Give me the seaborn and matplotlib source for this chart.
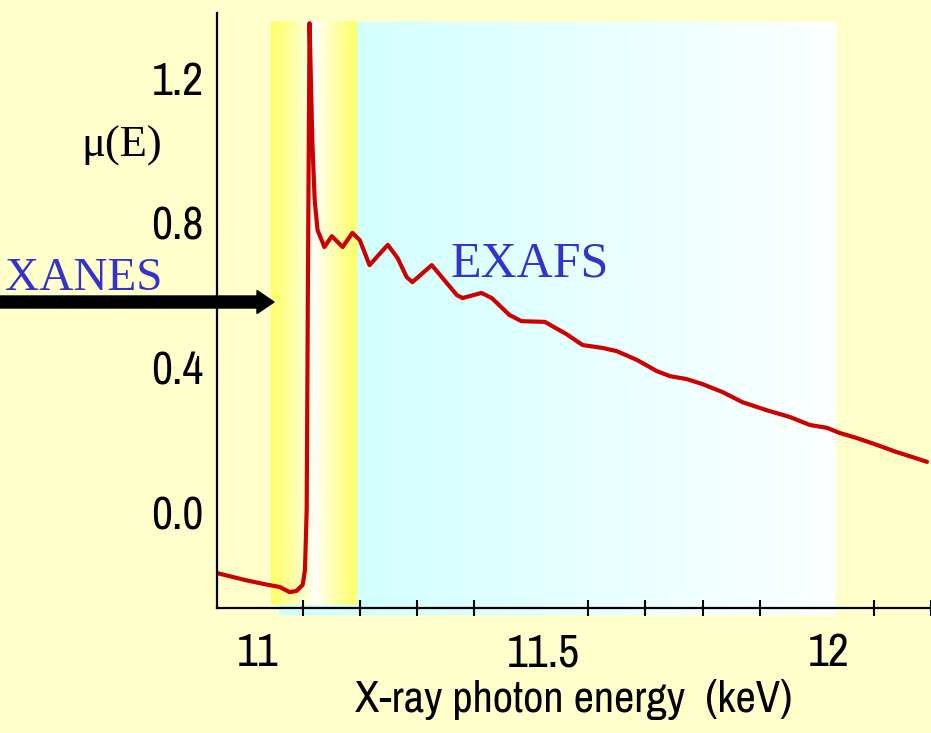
import numpy as np
import matplotlib
matplotlib.use("Agg")
import matplotlib.pyplot as plt
import seaborn as sns
from matplotlib import font_manager, transforms
from matplotlib.patches import FancyArrow
from matplotlib.ticker import MultipleLocator

# Absorption spectrum: photon energy (keV) and mu(E)
energy_kev = [10.949, 11.000, 11.033, 11.060, 11.077, 11.089, 11.100, 11.104,
              11.107, 11.109, 11.112, 11.117, 11.121, 11.126, 11.138, 11.151,
              11.170, 11.187, 11.200, 11.217, 11.249, 11.266, 11.282, 11.292,
              11.326, 11.345, 11.370, 11.380, 11.413, 11.431, 11.462, 11.483,
              11.524, 11.562, 11.590, 11.625, 11.650, 11.685, 11.720, 11.743,
              11.772, 11.800, 11.835, 11.870, 11.912, 11.953, 11.988, 12.018,
              12.040, 12.070, 12.105, 12.140, 12.168, 12.193]
mu_e = [-0.149, -0.169, -0.180, -0.188, -0.202, -0.199, -0.182, -0.141,
        0.025, 0.605, 1.371, 1.040, 0.882, 0.799, 0.752, 0.782,
        0.752, 0.791, 0.771, 0.702, 0.758, 0.722, 0.669, 0.655,
        0.702, 0.666, 0.619, 0.611, 0.625, 0.611, 0.564, 0.547,
        0.545, 0.511, 0.481, 0.473, 0.464, 0.440, 0.409, 0.395,
        0.387, 0.373, 0.351, 0.323, 0.301, 0.282, 0.260, 0.252,
        0.238, 0.224, 0.205, 0.185, 0.171, 0.158]

x_ticks = [11.0, 11.5, 12.0]
x_tick_labels = ["11", "11.5", "12"]
y_ticks = [0.0, 0.4, 0.8, 1.2]
y_tick_labels = ["0.0", "0.4", "0.8", "1.2"]

# Energy windows of the two spectral regions
xanes_range = (11.045, 11.194)
exafs_range = (11.058, 12.033)

BG = "#FFFFCC"
RED = "#CC0000"
BLUE = "#3333CC"

sns.set_theme(style="white")
names = {f.name for f in font_manager.fontManager.ttflist}
narrow_choices = ["Liberation Sans Narrow", "Arial Narrow", "Archivo Narrow",
                  "PT Sans Narrow", "Roboto Condensed", "Liberation Sans"]
sans = next(n for n in narrow_choices if n in names or n == "Liberation Sans")
plt.rcParams["font.family"] = [sans, "DejaVu Sans"]
SERIF = ["Liberation Serif", "DejaVu Serif"]

fig = plt.figure(figsize=(9.31, 7.33), dpi=100, facecolor=BG)
ax = fig.add_axes([217 / 931, 125 / 733, 714 / 931, 595 / 733])
ax.set_facecolor(BG)

# EXAFS window: cyan fading to white
n = 256
t = np.linspace(0, 1, n)
cyan = np.ones((1, n, 3))
cyan[0, :, 0] = 0.80 + 0.19 * t
ax.imshow(cyan, extent=[exafs_range[0], exafs_range[1], -0.265, 1.374],
          aspect="auto", interpolation="bilinear", zorder=0.4, clip_on=False)

# XANES window: yellow at both edges, white in the middle
centre = 0.52
d = np.where(t < centre, (centre - t) / centre, (t - centre) / (1 - centre))
w = np.clip(d, 0, 1) ** 0.8
yellow = np.ones((1, n, 3))
yellow[0, :, 2] = 1.0 - 0.6 * w
ax.imshow(yellow, extent=[xanes_range[0], xanes_range[1], -0.238, 1.374],
          aspect="auto", interpolation="bilinear", zorder=0.5)

sns.lineplot(x=energy_kev, y=mu_e, sort=False, estimator=None, color=RED,
             linewidth=3.0, ax=ax, zorder=3)

ax.set_xlim(10.95, 12.2)
ax.set_ylim(-0.246, 1.399)

ax.set_xticks(x_ticks)
ax.set_xticklabels(x_tick_labels)
ax.xaxis.set_minor_locator(MultipleLocator(0.1))
ax.set_yticks(y_ticks)
ax.set_yticklabels(y_tick_labels)

ax.tick_params(axis="x", which="major", direction="inout", length=19, width=1.5,
               color="black", labelsize=33, pad=8, labelcolor="black")
ax.tick_params(axis="x", which="minor", direction="inout", length=12, width=1.5,
               color="black", bottom=True)
ax.tick_params(axis="y", which="major", direction="inout", length=15, width=1.5,
               color="black", labelsize=33, pad=2, labelcolor="black")

for side in ("top", "right"):
    ax.spines[side].set_visible(False)
for side in ("left", "bottom"):
    ax.spines[side].set_color("black")
    ax.spines[side].set_linewidth(1.6)
    ax.spines[side].set_zorder(4)

shift_x = transforms.ScaledTranslation(12 / 100, 0, fig.dpi_scale_trans)
for lbl in ax.get_xticklabels():
    lbl.set_transform(lbl.get_transform() + shift_x)
shift_y = transforms.ScaledTranslation(0, 7 / 100, fig.dpi_scale_trans)
for lbl in ax.get_yticklabels():
    lbl.set_transform(lbl.get_transform() + shift_y)

ax.set_xlabel("X-ray photon energy  (keV)", fontsize=32, color="black")
ax.xaxis.set_label_coords(0.5, -0.119)
ax.xaxis.label.set_va("top")

ax.set_ylabel("μ(E)", rotation=0, fontsize=32, color="black", fontfamily=SERIF)
ax.yaxis.set_label_coords(-0.133, 0.776)
ax.yaxis.label.set_ha("center")
ax.yaxis.label.set_va("center")

fig.text(84 / 931, 1 - 290 / 733, "XANES", fontsize=34, color=BLUE,
         fontfamily=SERIF, ha="center", va="baseline")
fig.text(530 / 931, 1 - 277 / 733, "EXAFS", fontsize=36, color=BLUE,
         fontfamily=SERIF, ha="center", va="baseline")

arrow = FancyArrow(0, 1 - 302 / 733, 274 / 931, 0, width=12 / 733,
                   head_width=23 / 733, head_length=17 / 931,
                   length_includes_head=True, color="black",
                   transform=fig.transFigure)
fig.add_artist(arrow)

fig.savefig("out.png", dpi=100, facecolor=BG)
